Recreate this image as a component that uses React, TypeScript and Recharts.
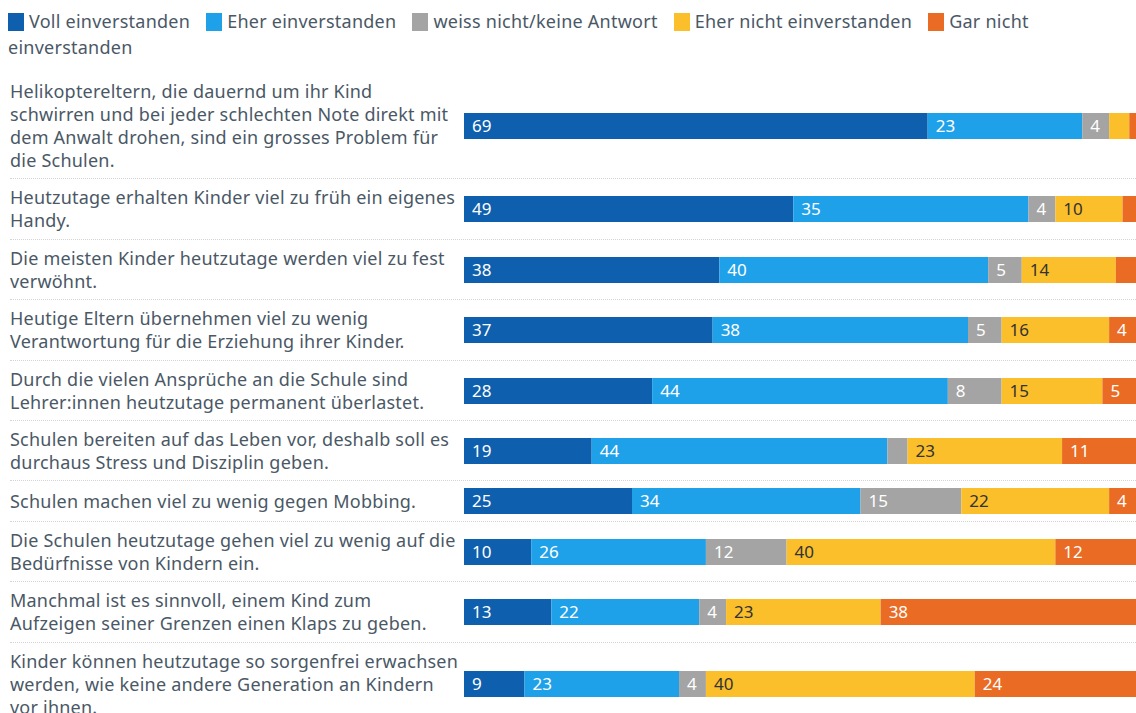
import { Bar, BarChart, LabelList, XAxis, YAxis } from "recharts"

// line breaks follow the wrapping in the original graphic
const statements = [
  "Helikoptereltern, die dauernd um ihr Kind\nschwirren und bei jeder schlechten Note direkt mit\ndem Anwalt drohen, sind ein grosses Problem für\ndie Schulen.",
  "Heutzutage erhalten Kinder viel zu früh ein eigenes\nHandy.",
  "Die meisten Kinder heutzutage werden viel zu fest\nverwöhnt.",
  "Heutige Eltern übernehmen viel zu wenig\nVerantwortung für die Erziehung ihrer Kinder.",
  "Durch die vielen Ansprüche an die Schule sind\nLehrer:innen heutzutage permanent überlastet.",
  "Schulen bereiten auf das Leben vor, deshalb soll es\ndurchaus Stress und Disziplin geben.",
  "Schulen machen viel zu wenig gegen Mobbing.",
  "Die Schulen heutzutage gehen viel zu wenig auf die\nBedürfnisse von Kindern ein.",
  "Manchmal ist es sinnvoll, einem Kind zum\nAufzeigen seiner Grenzen einen Klaps zu geben.",
  "Kinder können heutzutage so sorgenfrei erwachsen\nwerden, wie keine andere Generation an Kindern\nvor ihnen.",
]

const voll = [69, 49, 38, 37, 28, 19, 25, 10, 13, 9]
const eher = [23, 35, 40, 38, 44, 44, 34, 26, 22, 23]
const weissNicht = [4, 4, 5, 5, 8, 3, 15, 12, 4, 4]
const eherNicht = [3, 10, 14, 16, 15, 23, 22, 40, 23, 40]
const garNicht = [1, 2, 3, 4, 5, 11, 4, 12, 38, 24]

const series = [
  { key: "voll", name: "Voll einverstanden", color: "#0e5fad", text: "#ffffff", values: voll },
  { key: "eher", name: "Eher einverstanden", color: "#1fa1ea", text: "#ffffff", values: eher },
  { key: "weiss", name: "weiss nicht/keine Antwort", color: "#a4a4a4", text: "#ffffff", values: weissNicht },
  { key: "eherNicht", name: "Eher nicht einverstanden", color: "#fbbf2b", text: "#333333", values: eherNicht },
  { key: "gar", name: "Gar nicht einverstanden", color: "#e96b24", text: "#ffffff", values: garNicht },
]

const FONT = "'Noto Sans', 'Open Sans', sans-serif"
const TEXT = "#4a5866"

function RowBar({ index }: { index: number }) {
  const row: Record<string, string | number> = { name: statements[index] }
  series.forEach((s) => {
    row[s.key] = s.values[index]
  })
  return (
    <BarChart
      width={672}
      height={26}
      data={[row]}
      layout="vertical"
      margin={{ top: 0, right: 0, bottom: 0, left: 0 }}
      barCategoryGap={0}
    >
      <XAxis type="number" domain={[0, 100]} hide />
      <YAxis type="category" dataKey="name" hide />
      {series.map((s) => (
        <Bar key={s.key} dataKey={s.key} stackId="a" fill={s.color} isAnimationActive={false}>
          <LabelList
            dataKey={s.key}
            position="insideLeft"
            offset={8}
            fill={s.text}
            fontSize={17}
            formatter={(v: any) => (Number(v) >= 4 ? v : "")}
          />
        </Bar>
      ))}
    </BarChart>
  )
}

export default function App() {
  return (
    <div
      style={{
        position: "absolute",
        left: 0,
        top: 0,
        width: 1136,
        height: 713,
        overflow: "hidden",
        background: "#fff",
        fontFamily: FONT,
        color: TEXT,
      }}
    >
      <div
        style={{
          position: "absolute",
          left: 8,
          top: 8,
          width: 1050,
          fontSize: 18,
          letterSpacing: 0.25,
          lineHeight: "26px",
        }}
      >
        {series.map((s) => (
          <span key={s.key} style={{ marginRight: 16 }}>
            <span
              style={{
                display: "inline-block",
                width: 16,
                height: 18,
                background: s.color,
                verticalAlign: "-3px",
                marginRight: 5,
              }}
            />
            {s.name}
          </span>
        ))}
      </div>
      <div style={{ position: "absolute", left: 10, top: 73, width: 1126 }}>
        {statements.map((st, i) => (
          <div
            key={i}
            style={{
              display: "flex",
              alignItems: "center",
              padding: "7px 0 6.4px 0",
              borderBottom: i < statements.length - 1 ? "1px dotted #d4d4d4" : "none",
            }}
          >
            <div
              style={{
                width: 448,
                marginRight: 6,
                fontSize: 18,
                letterSpacing: 0.22,
                lineHeight: "23px",
                whiteSpace: "pre",
              }}
            >
              {st}
            </div>
            <RowBar index={i} />
          </div>
        ))}
      </div>
    </div>
  )
}
